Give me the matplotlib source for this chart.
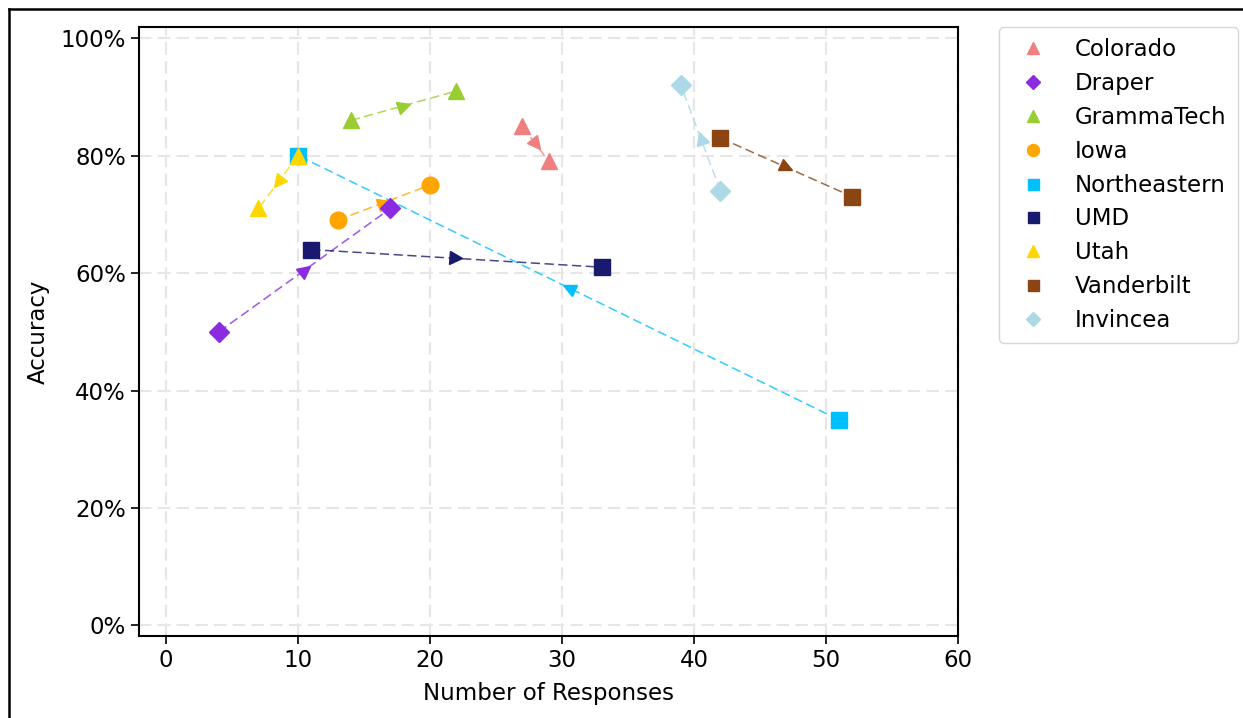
import numpy as np
import matplotlib
matplotlib.use("Agg")
import matplotlib.pyplot as plt
from matplotlib.markers import MarkerStyle
from matplotlib.transforms import Affine2D
from matplotlib.lines import Line2D
from matplotlib.ticker import PercentFormatter

teams = ["Colorado", "Draper", "GrammaTech", "Iowa", "Northeastern",
         "UMD", "Utah", "Vanderbilt", "Invincea"]
x_start = [27, 4, 14, 13, 51, 11, 10, 42, 42]
y_start = [0.85, 0.50, 0.86, 0.69, 0.35, 0.64, 0.80, 0.83, 0.74]
x_end = [29, 17, 22, 20, 10, 33, 7, 52, 39]
y_end = [0.79, 0.71, 0.91, 0.75, 0.80, 0.61, 0.71, 0.73, 0.92]
colors = ["#F08080", "#8A2BE2", "#9ACD32", "#FFA500", "#00BFFF",
          "#191970", "#FFD700", "#8B4513", "#ADD8E6"]
markers = ["^", "D", "^", "o", "s", "s", "^", "s", "D"]
xticks = [0, 10, 20, 30, 40, 50, 60]
yticks = [0.0, 0.2, 0.4, 0.6, 0.8, 1.0]

FS = 16.5
plt.rcParams['font.family'] = ['DejaVu Sans']
fig = plt.figure(figsize=(12.43, 7.18), dpi=100)
ax = fig.add_axes([139/1243, 1-636/718, (958-139)/1243, (636-27)/718])
ax.set_xlim(-2.05, 60)
ax.set_ylim(-0.018, 1.019)
ax.set_xticks(xticks)
ax.set_yticks(yticks)
ax.yaxis.set_major_formatter(PercentFormatter(1.0, decimals=0))
ax.grid(True, ls=(0, (6, 3)), color="#e6e6e6", lw=1.5)
ax.set_axisbelow(True)
ax.tick_params(labelsize=FS, length=6, width=1.2)
ax.set_xlabel("Number of Responses", fontsize=FS, labelpad=7)
ax.set_ylabel("Accuracy", fontsize=FS, labelpad=8)
for s in ax.spines.values():
    s.set_linewidth(1.5)

for i, t in enumerate(teams):
    c = colors[i]
    xs = [x_start[i], x_end[i]]
    ys = [y_start[i], y_end[i]]
    ax.plot(xs, ys, ls=(0, (6, 3)), color=c, lw=1.1, alpha=0.8, zorder=2)
    # arrow head at midpoint
    p0 = ax.transData.transform((xs[0], ys[0]))
    p1 = ax.transData.transform((xs[1], ys[1]))
    ang = np.degrees(np.arctan2(p1[1]-p0[1], p1[0]-p0[0]))
    mk = MarkerStyle(">", transform=Affine2D().rotate_deg(ang))
    ax.plot([(xs[0]+xs[1])/2], [(ys[0]+ys[1])/2], marker=mk, ms=9,
            color=c, ls="none", zorder=3)
    if markers[i] == "D":
        ms = 10
    elif markers[i] == "s":
        ms = 11
    else:
        ms = 12
    ax.plot(xs, ys, marker=markers[i], ms=ms, color=c, ls="none",
            zorder=4, label=t)

ax.legend(loc="upper left", bbox_to_anchor=(1.05, 1.0), borderaxespad=0,
          fontsize=FS, markerscale=0.72, numpoints=1, labelspacing=0.47,
          borderpad=0.5, frameon=True, edgecolor="#cccccc")

fig.add_artist(Line2D([9/1243, 9/1243], [0, 1-9/718], color="black", lw=1.8))
fig.add_artist(Line2D([9/1243, 1], [1-9/718, 1-9/718], color="black", lw=1.8))

fig.savefig("out.png", dpi=100)
